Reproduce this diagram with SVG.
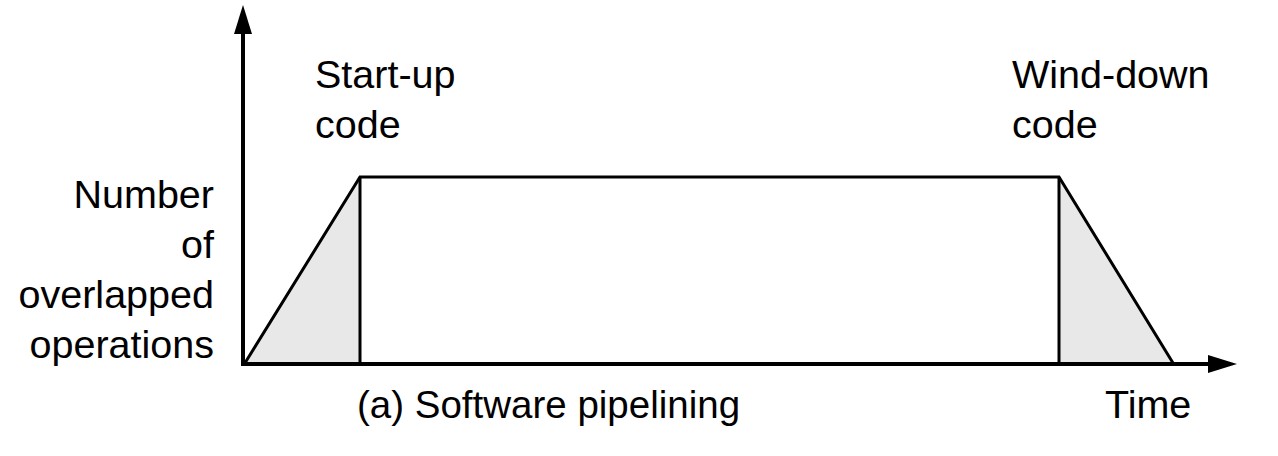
<svg xmlns="http://www.w3.org/2000/svg" width="1278" height="456" viewBox="0 0 1278 456">
<style>
text{font-family:"Liberation Sans",Arial,sans-serif;font-size:39.5px;fill:#000}
.cap{font-size:38.5px}
.ax{stroke:#000;stroke-width:4;fill:none}
.sh{stroke:#000;stroke-width:3;fill:none;stroke-linejoin:miter}
.gr{fill:#e8e8e8;stroke:none}
</style>
<rect width="1278" height="456" fill="#fff"/>
<g id="shape">
<polygon class="gr" points="245,363 360,177 360,363"/>
<polygon class="gr" points="1059,177 1173,363 1059,363"/>
<polyline class="sh" points="245,363 360,177 1059,177 1173,363"/>
<line class="sh" x1="360" y1="177" x2="360" y2="363"/>
<line class="sh" x1="1059" y1="177" x2="1059" y2="363"/>
</g>
<g id="axes">
<line class="ax" x1="243" y1="365" x2="243" y2="32"/>
<polygon points="243,5 234,34 252,34" fill="#000"/>
<line class="ax" x1="241" y1="364" x2="1210" y2="364"/>
<polygon points="1237,364 1208,355 1208,373" fill="#000"/>
</g>
<g id="ylabel">
<text x="214" y="208" text-anchor="end">Number</text>
<text x="214" y="258" text-anchor="end">of</text>
<text x="214" y="308" text-anchor="end">overlapped</text>
<text x="214" y="358" text-anchor="end">operations</text>
</g>
<g id="startup">
<text x="315" y="88">Start-up</text>
<text x="315" y="138">code</text>
</g>
<g id="winddown">
<text x="1012" y="88">Wind-down</text>
<text x="1012" y="138">code</text>
</g>
<g id="captions">
<text class="cap" x="357" y="418">(a) Software pipelining</text>
<text x="1105" y="418">Time</text>
</g>
</svg>
